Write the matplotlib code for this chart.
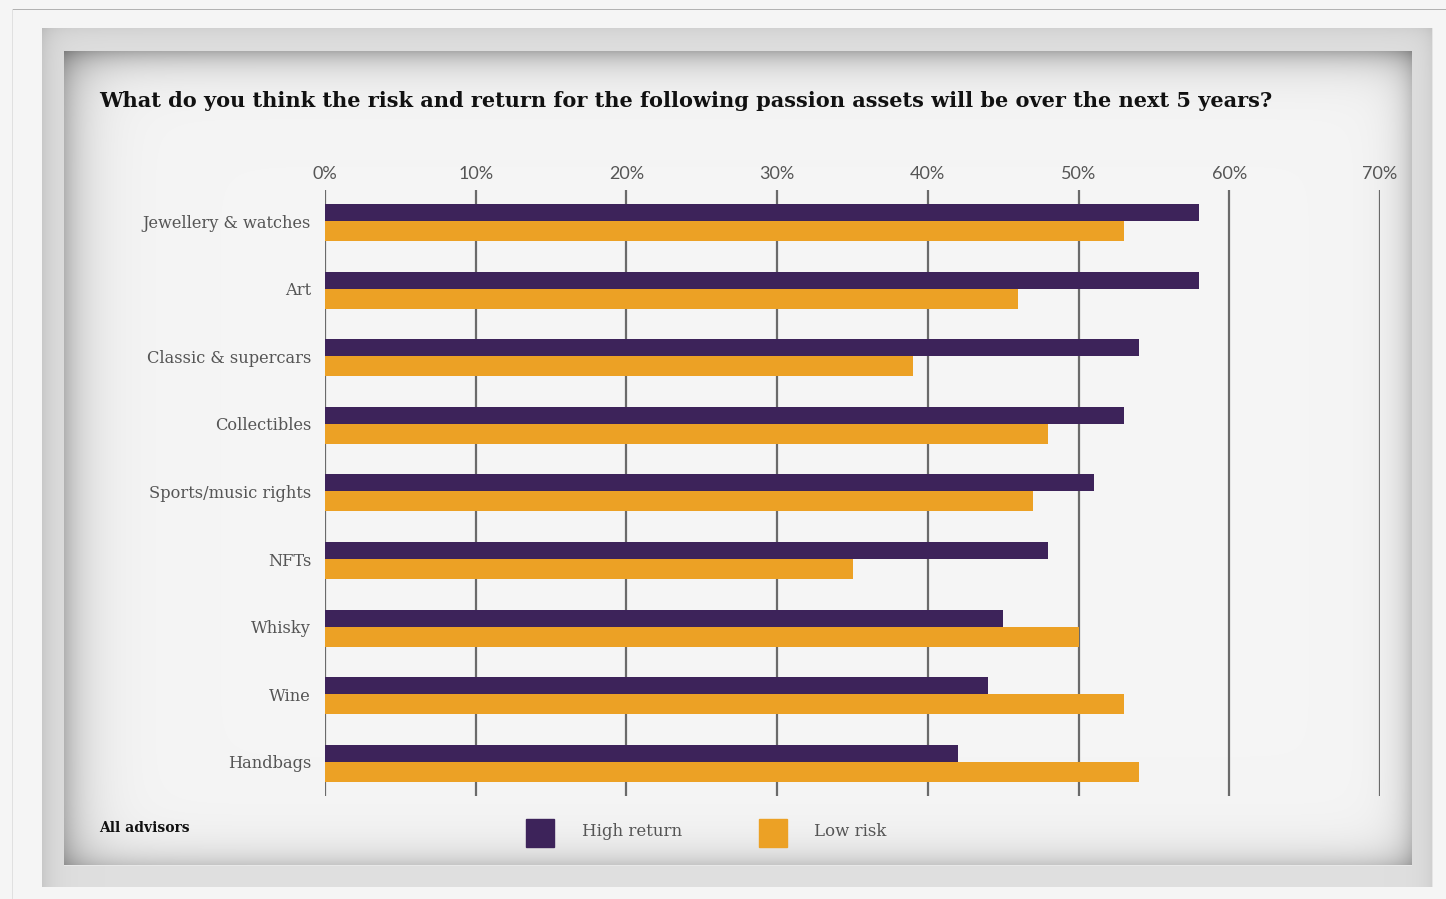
import numpy as np
import matplotlib
matplotlib.use("Agg")
import matplotlib.pyplot as plt
from matplotlib.patches import Rectangle

# survey results, share of advisors (%)
assets = ["Jewellery & watches", "Art", "Classic & supercars", "Collectibles",
          "Sports/music rights", "NFTs", "Whisky", "Wine", "Handbags"]
high_return = [58, 58, 54, 53, 51, 48, 45, 44, 42]
low_risk = [53, 46, 39, 48, 47, 35, 50, 53, 54]
x_ticks = [0, 10, 20, 30, 40, 50, 60, 70]
series_names = ["High return", "Low risk"]

PURPLE = "#3d235a"
ORANGE = "#eca125"
W, H = 1446, 899

fig = plt.figure(figsize=(W / 100, H / 100), dpi=100)


def fx(px):
    return px / W


def fy(py):
    return 1 - py / H


# ---- framed card background ----
yy, xx = np.mgrid[0:H, 0:W].astype(float)
img = np.full((H, W), 0.961)

# thin page rules
img[9, 12:] = 0.70
img[9:, 12] = 0.88

# outer frame band
ox0, oy0, ox1, oy1 = 42, 28, 1433, 887
m = (xx >= ox0) & (xx < ox1) & (yy >= oy0) & (yy < oy1)
s_top = 0.06 * np.exp(-(yy - oy0) / 10)
s_left = 0.10 * np.exp(-(xx - ox0) / 12)
s_right = 0.08 * np.exp(-(ox1 - xx) / 10)
frame = 0.875 * (1 - s_top) * (1 - s_left) * (1 - s_right)
img[m] = frame[m]
img[oy0:oy1, ox1 - 1] = 0.90

# inner panel with soft inset shadow
ix0, iy0, ix1, iy1 = 64, 51, 1412, 865
m = (xx >= ix0) & (xx < ix1) & (yy >= iy0) & (yy < iy1)
t_top = 0.30 * np.exp(-(yy - iy0) / 16)
t_left = 0.27 * np.exp(-(xx - ix0) / 22)
t_bot = 0.20 * np.exp(-(iy1 - yy) / 16)
t_right = 0.22 * np.exp(-(ix1 - xx) / 15)
panel = 0.961 * (1 - t_top) * (1 - t_left) * (1 - t_bot) * (1 - t_right)
img[m] = panel[m]
img[iy1, ix0:ix1] = 0.91

bg = fig.add_axes([0, 0, 1, 1], zorder=-1)
bg.imshow(np.dstack([img] * 3), extent=(0, W, H, 0),
          aspect="auto", interpolation="bilinear")
bg.set_xlim(0, W)
bg.set_ylim(H, 0)
bg.axis("off")

# ---- bar chart ----
ax_left, ax_right, ax_top, ax_bot = 325, 1380, 190, 796
ax = fig.add_axes([fx(ax_left), fy(ax_bot), fx(ax_right - ax_left),
                   (ax_bot - ax_top) / H])
ax.patch.set_alpha(0)

step = 67.6
first = 221
y = np.arange(len(assets))
h_top = 17 / step
h_bot = 20 / step
ax.barh(y - h_top, high_return, height=h_top, align="edge", color=PURPLE, zorder=3)
ax.barh(y, low_risk, height=h_bot, align="edge", color=ORANGE, zorder=3)

ax.set_xlim(0, 70)
ax.set_ylim((ax_bot - first) / step, (ax_top - first) / step)

for t in x_ticks:
    ax.axvline(t, color="#6a6a6a", lw=1.6, zorder=2)

ax.xaxis.tick_top()
ax.set_xticks(x_ticks)
ax.set_xticklabels([f"{t}%" for t in x_ticks], family="Lato", fontsize=13,
                   color="#555555")
ax.tick_params(axis="x", length=0, pad=6)
ax.set_yticks(y)
ax.set_yticklabels(assets, family="DejaVu Serif", fontsize=11.7,
                   color="#555555")
ax.tick_params(axis="y", length=0, pad=10)
for s in ax.spines.values():
    s.set_visible(False)

# ---- title, note and legend ----
fig.text(fx(99), fy(101), "What do you think the risk and return for the following "
         "passion assets will be over the next 5 years?",
         family="DejaVu Serif", weight="bold", fontsize=15, color="#111111",
         va="center", ha="left")
fig.text(fx(99), fy(828), "All advisors", family="DejaVu Serif", weight="bold",
         fontsize=10, color="#111111", va="center", ha="left")

for sq_x, txt_x, col, name in [(526, 582, PURPLE, series_names[0]),
                               (759, 814, ORANGE, series_names[1])]:
    fig.patches.append(Rectangle((fx(sq_x), fy(847)), fx(28), 28 / H,
                                 transform=fig.transFigure, color=col))
    fig.text(fx(txt_x), fy(831), name, family="DejaVu Serif", fontsize=12,
             color="#555555", va="center", ha="left")

fig.savefig("out.png", dpi=100)
